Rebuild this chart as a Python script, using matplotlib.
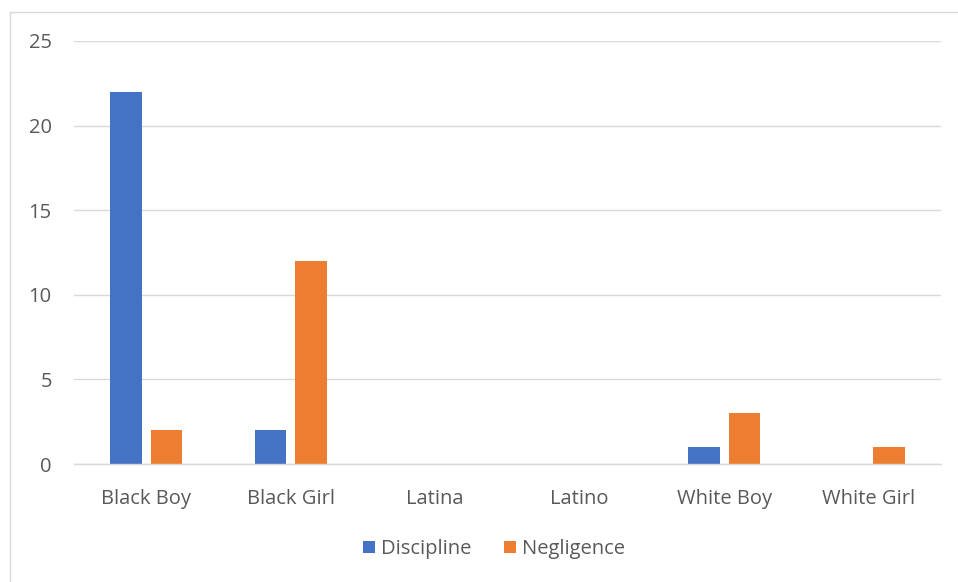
import matplotlib
matplotlib.use("Agg")
import matplotlib.pyplot as plt
import numpy as np
from matplotlib.lines import Line2D

categories = ["Black Boy", "Black Girl", "Latina", "Latino", "White Boy", "White Girl"]
discipline = [22, 2, 0, 0, 1, 0]
negligence = [2, 12, 0, 0, 3, 1]
series_names = ["Discipline", "Negligence"]
yticks = [0, 5, 10, 15, 20, 25]

plt.rcParams['font.family'] = ['Open Sans', 'DejaVu Sans']
text_color = "#595959"
fs = 14.5

fig = plt.figure(figsize=(9.58, 5.82), dpi=100)
ax = fig.add_axes([74/958, 1 - 464/582, (941 - 74)/958, (464 - 41)/582])

x = np.arange(len(categories))
w = 0.22
off = 0.14
ax.bar(x - off, discipline, width=w, color="#4472C4", label=series_names[0], zorder=3)
ax.bar(x + off, negligence, width=w, color="#ED7D31", label=series_names[1], zorder=3)

ax.set_xlim(-0.5, len(categories) - 0.5)
ax.set_ylim(0, 25)
ax.set_yticks(yticks)
ax.set_xticks(x)
ax.set_xticklabels(categories)
ax.tick_params(axis='both', length=0, labelsize=fs, colors=text_color)
ax.tick_params(axis='x', pad=18)
ax.tick_params(axis='y', pad=16)
ax.yaxis.grid(True, color="#D9D9D9", linewidth=1, zorder=0)
for s in ["top", "right", "left"]:
    ax.spines[s].set_visible(False)
ax.spines["bottom"].set_color("#D9D9D9")
ax.spines["bottom"].set_linewidth(1)
ax.spines["bottom"].set_zorder(4)

leg = fig.legend(loc="center", bbox_to_anchor=(494/958, 1 - 549/582), ncol=2, frameon=False,
                 fontsize=fs, handlelength=0.6, handleheight=0.6, handletextpad=0.3,
                 columnspacing=1.6)
for t in leg.get_texts():
    t.set_color(text_color)

# figure border (top and left)
fig.add_artist(Line2D([10/958, 10/958], [0, 1 - 12/582], transform=fig.transFigure, color="#D9D9D9", linewidth=1))
fig.add_artist(Line2D([10/958, 1], [1 - 12/582, 1 - 12/582], transform=fig.transFigure, color="#D9D9D9", linewidth=1))

fig.savefig("out.png", dpi=100)
